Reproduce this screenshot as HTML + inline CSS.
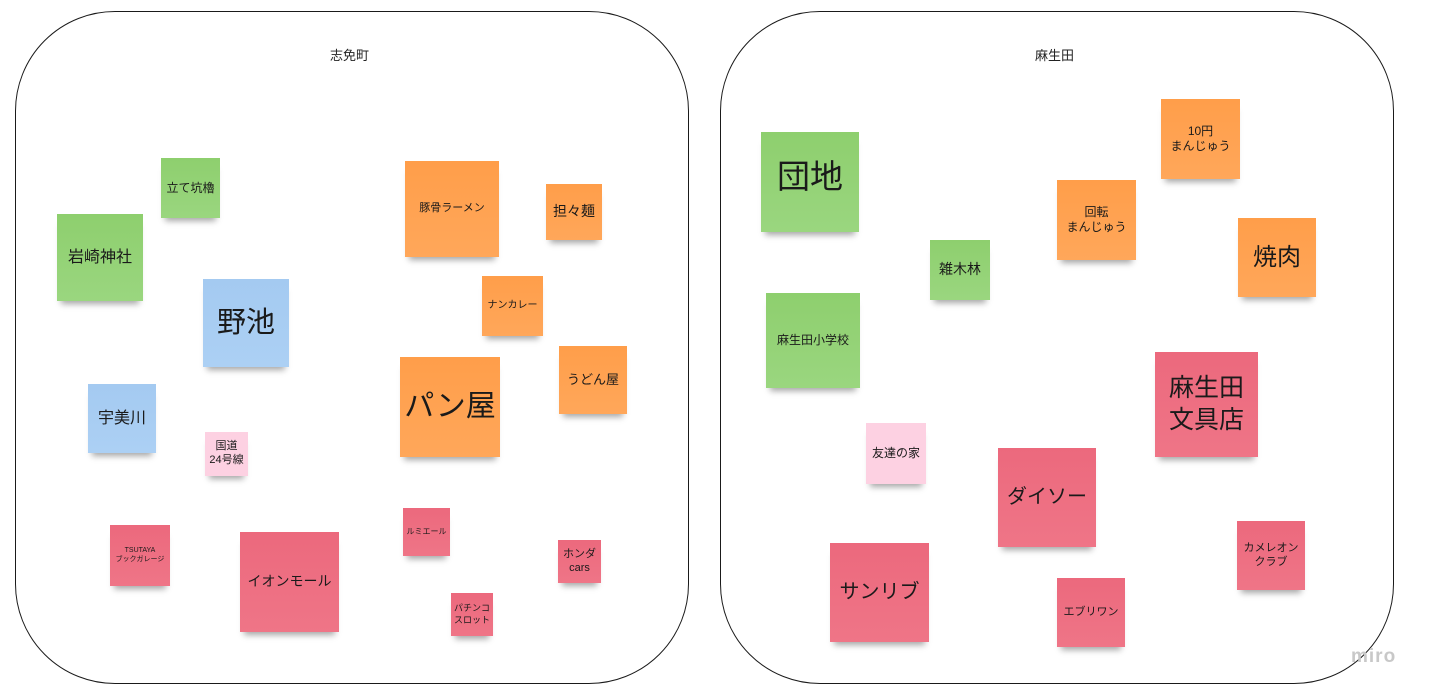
<!DOCTYPE html>
<html><head><meta charset="utf-8"><style>
html,body{margin:0;padding:0;background:#fff;width:1430px;height:699px;overflow:hidden;position:relative;font-family:"Liberation Sans","Noto Sans CJK JP",sans-serif;}
.frame{position:absolute;border:1.5px solid #1a1a1a;border-radius:100px;box-sizing:border-box;background:#fff;}
.t{position:absolute;font-size:13px;color:#222;}
.n{position:absolute;display:flex;align-items:center;justify-content:center;text-align:center;color:#1a1a1a;line-height:1.25;box-shadow:0 7px 6px -4px rgba(0,0,0,0.35);}
.g{background:linear-gradient(#8ecf6e,#9ad67f);}
.b{background:linear-gradient(#a4caf1,#acd0f4);}
.o{background:linear-gradient(#ff9e4a,#ffa75a);}
.r{background:linear-gradient(#ec697d,#ef7587);}
.p{background:#fdd1e2;}
</style></head><body>
<div class="frame" style="left:15px;top:11px;width:674px;height:673px"></div>
<div class="frame" style="left:720px;top:11px;width:674px;height:673px"></div>
<div class="t" style="left:330px;top:45px">志免町</div>
<div class="t" style="left:1035px;top:45px">麻生田</div>

<div class="n g" style="left:161px;top:158px;width:59px;height:60px;font-size:12px">立て坑櫓</div>
<div class="n g" style="left:57px;top:214px;width:86px;height:87px;font-size:16px">岩崎神社</div>
<div class="n b" style="left:203px;top:279px;width:86px;height:88px;font-size:29px">野池</div>
<div class="n b" style="left:88px;top:384px;width:68px;height:69px;font-size:16px">宇美川</div>
<div class="n p" style="left:205px;top:432px;width:43px;height:44px;font-size:11px">国道<br>24号線</div>
<div class="n r" style="left:110px;top:525px;width:60px;height:61px;font-size:7px">TSUTAYA<br>ブックガレージ</div>
<div class="n r" style="left:240px;top:532px;width:99px;height:100px;font-size:14px">イオンモール</div>
<div class="n o" style="left:405px;top:161px;width:94px;height:96px;font-size:11px">豚骨ラーメン</div>
<div class="n o" style="left:546px;top:184px;width:56px;height:56px;font-size:14px">担々麺</div>
<div class="n o" style="left:482px;top:276px;width:61px;height:60px;font-size:10px">ナンカレー</div>
<div class="n o" style="left:559px;top:346px;width:68px;height:68px;font-size:13px">うどん屋</div>
<div class="n o" style="left:400px;top:357px;width:100px;height:100px;font-size:30px">パン屋</div>
<div class="n r" style="left:403px;top:508px;width:47px;height:48px;font-size:8px">ルミエール</div>
<div class="n r" style="left:558px;top:540px;width:43px;height:43px;font-size:11px">ホンダ<br>cars</div>
<div class="n r" style="left:451px;top:593px;width:42px;height:43px;font-size:9px">パチンコ<br>スロット</div>

<div class="n g" style="left:761px;top:132px;width:98px;height:100px;font-size:33px;align-items:flex-start;padding-top:24px;box-sizing:border-box">団地</div>
<div class="n g" style="left:930px;top:240px;width:60px;height:60px;font-size:14px">雑木林</div>
<div class="n g" style="left:766px;top:293px;width:94px;height:95px;font-size:12px">麻生田小学校</div>
<div class="n o" style="left:1057px;top:180px;width:79px;height:80px;font-size:12px">回転<br>まんじゅう</div>
<div class="n o" style="left:1161px;top:99px;width:79px;height:80px;font-size:12px">10円<br>まんじゅう</div>
<div class="n o" style="left:1238px;top:218px;width:78px;height:79px;font-size:24px">焼肉</div>
<div class="n r" style="left:1155px;top:352px;width:103px;height:105px;font-size:25px">麻生田<br>文具店</div>
<div class="n p" style="left:866px;top:423px;width:60px;height:61px;font-size:12px">友達の家</div>
<div class="n r" style="left:998px;top:448px;width:98px;height:99px;font-size:20px">ダイソー</div>
<div class="n r" style="left:830px;top:543px;width:99px;height:99px;font-size:20px">サンリブ</div>
<div class="n r" style="left:1057px;top:578px;width:68px;height:69px;font-size:11px">エブリワン</div>
<div class="n r" style="left:1237px;top:521px;width:68px;height:69px;font-size:11px">カメレオン<br>クラブ</div>

<div class="t" style="left:1351px;top:646px;font-size:19px;color:#c8c8c8;font-weight:bold;letter-spacing:1px">miro</div>
</body></html>
